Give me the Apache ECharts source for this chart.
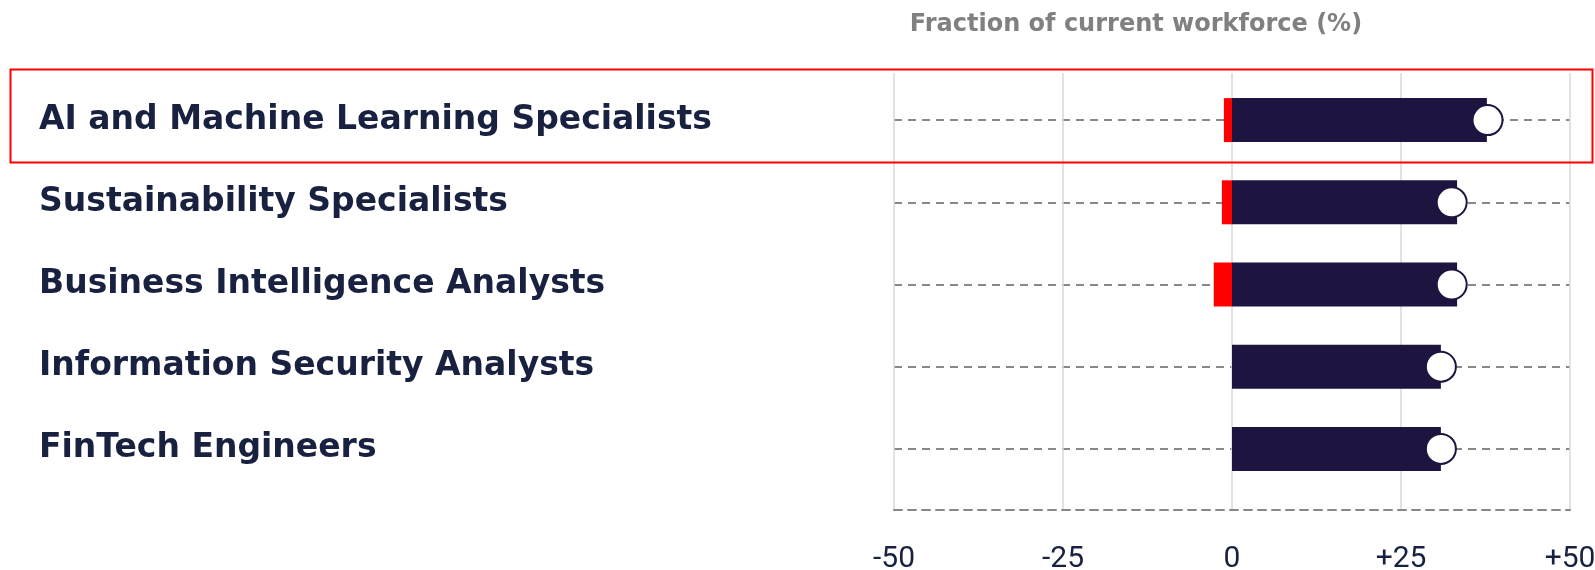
<!DOCTYPE html>
<html>
<head>
<meta charset="utf-8">
<script src="https://cdn.jsdelivr.net/npm/echarts@6/dist/echarts.min.js"></script>
<style>
  html, body { margin: 0; padding: 0; background: #fff; }
  #workforceChart { width: 1595px; height: 570px; }
</style>
</head>
<body>
<div id="workforceChart"></div>
<script>
// data
const categories = [
  'AI and Machine Learning Specialists',
  'Sustainability Specialists',
  'Business Intelligence Analysts',
  'Information Security Analysts',
  'FinTech Engineers'
]
const growthValues = [37.7, 33.3, 33.3, 30.9, 30.9]
const declineValues = [-1.2, -1.5, -2.7, 0, 0]
const netValues = [37.8, 32.5, 32.5, 30.9, 30.9]
const xTicks = [-50, -25, 0, 25, 50]

const navy = '#1e1440'
const textNavy = '#18213f'
const gridLeft = 894
const gridRight = 25
const rowTop = 79
const rowHeight = 82.2

const chart = echarts.init(document.getElementById('workforceChart'))

const tickLabel = v => (v > 0 ? '+' + v : String(v))
const xRange = {
  type: 'value',
  min: xTicks[0],
  max: xTicks[xTicks.length - 1],
  interval: xTicks[1] - xTicks[0]
}

const option = {
  backgroundColor: '#fff',
  animation: false,
  title: {
    text: 'Fraction of current workforce (%)',
    left: 1131,
    top: 8,
    textAlign: 'center',
    textStyle: {
      fontFamily: 'DejaVu Sans',
      fontWeight: 'bold',
      fontSize: 24,
      color: '#808080'
    }
  },
  grid: [
    // background: vertical lines + bottom dashed axis
    { left: gridLeft, right: gridRight, top: 73, bottom: 60, outerBoundsMode: 'none' },
    // bars
    {
      left: gridLeft,
      right: gridRight,
      top: rowTop,
      height: rowHeight * categories.length,
      outerBoundsMode: 'none'
    },
    // dashed guide through the middle of each row
    {
      left: gridLeft,
      right: gridRight,
      top: rowTop + rowHeight / 2,
      height: rowHeight * (categories.length - 1),
      outerBoundsMode: 'none'
    }
  ],
  xAxis: [
    {
      ...xRange,
      gridIndex: 0,
      axisLine: {
        show: true,
        onZero: false,
        lineStyle: { color: '#888', width: 2, type: [8, 6] }
      },
      axisTick: { show: false },
      axisLabel: {
        margin: 34,
        formatter: tickLabel,
        fontFamily: 'Liberation Sans Narrow, Roboto, sans-serif',
        fontSize: 30,
        color: textNavy
      },
      splitLine: {
        show: true,
        lineStyle: { color: '#d9d9d9', width: 1.5 }
      }
    },
    { ...xRange, gridIndex: 1, show: false },
    { ...xRange, gridIndex: 2, show: false }
  ],
  yAxis: [
    { gridIndex: 0, type: 'value', show: false },
    {
      gridIndex: 1,
      type: 'category',
      data: categories,
      inverse: true,
      axisLine: { show: false },
      axisTick: { show: false },
      splitLine: { show: false },
      axisLabel: {
        align: 'left',
        margin: gridLeft - 39,
        fontFamily: 'DejaVu Sans',
        fontWeight: 'bold',
        fontSize: 33,
        color: textNavy
      }
    },
    {
      gridIndex: 2,
      type: 'value',
      min: 0,
      max: categories.length - 1,
      interval: 1,
      axisLine: { show: false },
      axisTick: { show: false },
      axisLabel: { show: false },
      splitLine: {
        show: true,
        lineStyle: { color: '#888', width: 2, type: [8, 6] }
      }
    }
  ],
  series: [
    {
      name: 'Growth',
      type: 'bar',
      xAxisIndex: 1,
      yAxisIndex: 1,
      data: growthValues,
      barWidth: 44,
      barGap: '-100%',
      itemStyle: { color: navy },
      z: 2
    },
    {
      name: 'Decline',
      type: 'bar',
      xAxisIndex: 1,
      yAxisIndex: 1,
      data: declineValues,
      barWidth: 44,
      barGap: '-100%',
      itemStyle: { color: '#ff0000' },
      z: 2
    },
    {
      name: 'Net',
      type: 'scatter',
      xAxisIndex: 1,
      yAxisIndex: 1,
      data: netValues.map((v, i) => [v, categories[i]]),
      symbol: 'circle',
      symbolSize: 30,
      itemStyle: { color: '#fff', opacity: 1, borderColor: navy, borderWidth: 2 },
      z: 3
    }
  ],
  graphic: [
    {
      // highlight box round the first row
      type: 'rect',
      left: 8,
      top: 67,
      shape: { width: 1582, height: 93 },
      style: { fill: 'none', stroke: '#ff0000', lineWidth: 2 },
      z: 10
    }
  ]
}

chart.setOption(option)
</script>
</body>
</html>
